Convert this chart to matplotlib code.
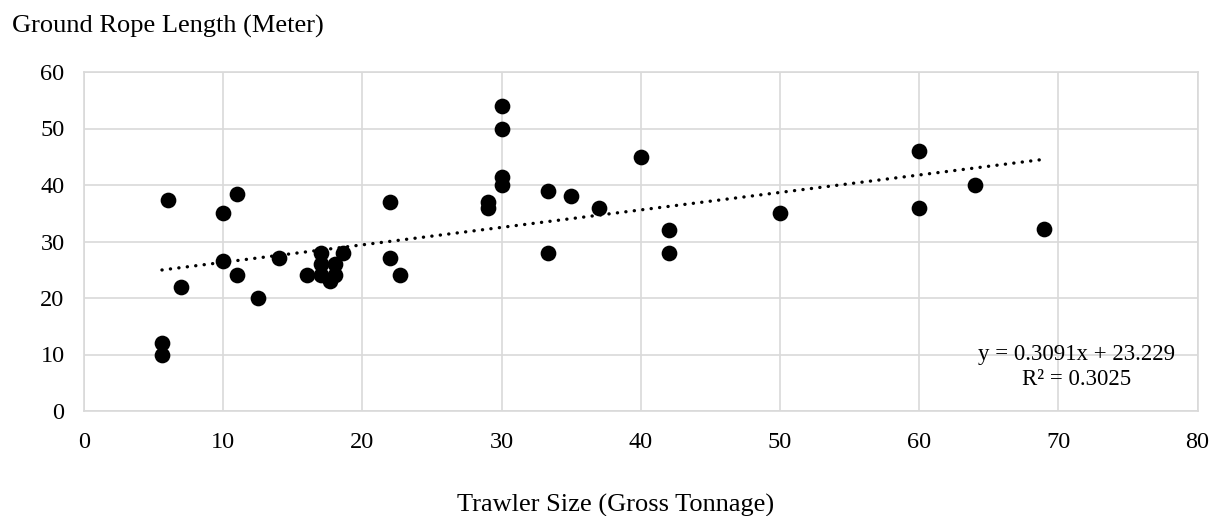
import numpy as np
import matplotlib
matplotlib.use('Agg')
import matplotlib.pyplot as plt

# trawler size (GT) vs ground rope length (m)
gross_tonnage = [5.6, 5.6, 6, 7, 10, 10, 11, 11, 12.5, 14,
                 16, 17, 17, 17, 17.7, 18, 18, 18.6, 22, 22,
                 22.7, 29, 29, 30, 30, 30, 30, 33.3, 33.3, 35,
                 37, 40, 42, 42, 50, 60, 60, 64, 69]
rope_length = [12, 10, 37.3, 22, 35, 26.5, 38.4, 24, 20, 27,
               24, 28, 26, 24, 23, 26, 24, 28, 37, 27,
               24, 37, 36, 54, 50, 41.5, 40, 39, 28, 38,
               36, 45, 32, 28, 35, 46, 36, 40, 32.3]

# trendline as reported on the chart
trend_slope = 0.3091
trend_intercept = 23.229
trend_r2 = 0.3025

x_ticks = [0, 10, 20, 30, 40, 50, 60, 70, 80]
y_ticks = [0, 10, 20, 30, 40, 50, 60]

plt.rcParams['font.family'] = ['Liberation Serif', 'DejaVu Serif']

fig = plt.figure(figsize=(12.2, 5.16), dpi=100)
ax = fig.add_axes([84 / 1220, 1 - 411 / 516, 1113.6 / 1220, 339 / 516])

ax.scatter(gross_tonnage, rope_length, s=128, color='black', zorder=3, linewidths=0)

x_line = np.array([min(gross_tonnage), max(gross_tonnage)])
ax.plot(x_line, trend_slope * x_line + trend_intercept, color='black', lw=2.4,
        linestyle=(0, (0.05, 2.5)), dash_capstyle='round', zorder=2)

eq_text = 'y = %.4fx + %.3f\nR² = %.4f' % (trend_slope, trend_intercept, trend_r2)
ax.text((1077 - 84) / 1113.6, (411 - 385) / 339, eq_text,
        transform=ax.transAxes, ha='center', va='baseline',
        multialignment='center', fontsize=16.5, linespacing=1.25, zorder=4)

ax.set_xlim(0, 80)
ax.set_ylim(0, 60)
ax.set_xticks(x_ticks)
ax.set_yticks(y_ticks)
ax.tick_params(axis='both', length=0, labelsize=17.5)
ax.tick_params(axis='x', pad=15)
ax.tick_params(axis='y', pad=14)
ax.grid(True, color='#d9d9d9', lw=1.2, zorder=0)
ax.set_axisbelow(True)
for side in ax.spines.values():
    side.set_color('#d9d9d9')
    side.set_linewidth(1.2)

fig.text(12 / 1220, 1 - 33 / 516, 'Ground Rope Length (Meter)',
         ha='left', va='baseline', fontsize=19)
fig.text(616 / 1220, 1 - 512 / 516, 'Trawler Size (Gross Tonnage)',
         ha='center', va='baseline', fontsize=19)

fig.savefig('out.png', dpi=100)
